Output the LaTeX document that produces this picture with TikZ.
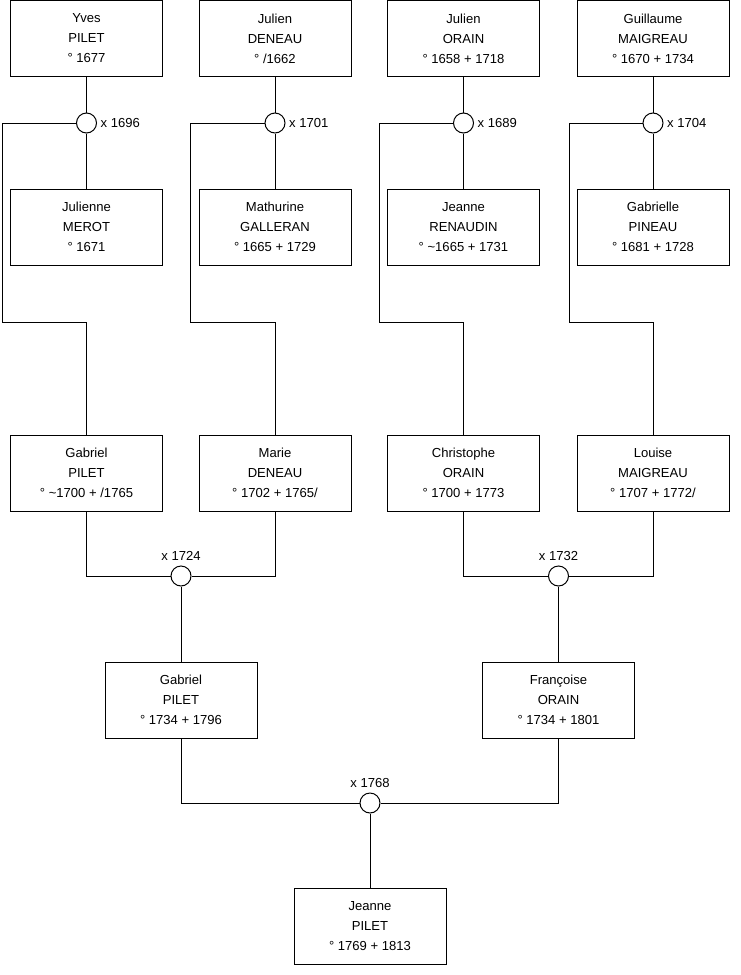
\documentclass[tikz,border=0pt]{standalone}
\usepackage{fontspec}
\setmainfont{Liberation Sans}
\usepackage{tikz}
\usetikzlibrary{positioning}

\begin{document}
\begin{tikzpicture}[
        x=0.75pt, y=-0.75pt,
        person/.style={rectangle, draw, line width=0.75pt, fill=white, minimum width=114pt, minimum height=57pt, align=center, font=\fontsize{9.8}{15}\selectfont},
        union/.style={circle, draw, line width=0.75pt, fill=white, minimum size=15pt, inner sep=0pt},
        ulabel/.style={inner sep=0pt, font=\fontsize{9.8}{12}\selectfont},
        link/.style={line width=0.75pt}
    ]
        \useasboundingbox (0,0) rectangle (740,975);

        % Grandparents, paternal couples
        \node[person] (ypilet) at (86.5,38.5) {Yves\\PILET\\° 1677};
        \node[person] (jdeneau) at (275,38.5) {Julien\\DENEAU\\° /1662};
        \node[person] (jorain) at (463.5,38.5) {Julien\\ORAIN\\° 1658 + 1718};
        \node[person] (gmaigreau) at (653,38.5) {Guillaume\\MAIGREAU\\° 1670 + 1734};

        % Grandparents, maternal side
        \node[person] (jmerot) at (86.5,227) {Julienne\\MEROT\\° 1671};
        \node[person] (mgalleran) at (275,227) {Mathurine\\GALLERAN\\° 1665 + 1729};
        \node[person] (jrenaudin) at (463.5,227) {Jeanne\\RENAUDIN\\° \textasciitilde 1665 + 1731};
        \node[person] (gpineau) at (653,227) {Gabrielle\\PINEAU\\° 1681 + 1728};

        % Parents
        \node[person] (gapilet) at (86.5,473) {Gabriel\\PILET\\° \textasciitilde 1700 + /1765};
        \node[person] (mdeneau) at (275,473) {Marie\\DENEAU\\° 1702 + 1765/};
        \node[person] (corain) at (463.5,473) {Christophe\\ORAIN\\° 1700 + 1773};
        \node[person] (lmaigreau) at (653,473) {Louise\\MAIGREAU\\° 1707 + 1772/};

        \node[person] (gpilet) at (181,700) {Gabriel\\PILET\\° 1734 + 1796};
        \node[person] (forain) at (558.5,700) {Françoise\\ORAIN\\° 1734 + 1801};

        \node[person] (jpilet) at (370,926) {Jeanne\\PILET\\° 1769 + 1813};

        % Marriages
        \node[union] (m1696) at (86.5,123) {};
        \node[union] (m1701) at (275,123) {};
        \node[union] (m1689) at (463.5,123) {};
        \node[union] (m1704) at (653,123) {};
        \node[union] (m1724) at (181,576) {};
        \node[union] (m1732) at (558.5,576) {};
        \node[union] (m1768) at (370,803) {};

        \node[ulabel, right=2.5pt of m1696] {x 1696};
        \node[ulabel, right=2.5pt of m1701] {x 1701};
        \node[ulabel, right=2.5pt of m1689] {x 1689};
        \node[ulabel, right=2.5pt of m1704] {x 1704};
        \node[ulabel, above=3.5pt of m1724] {x 1724};
        \node[ulabel, above=3.5pt of m1732] {x 1732};
        \node[ulabel, above=3.5pt of m1768] {x 1768};

        % Bends of the long links
        \coordinate (bend1) at (2,322);
        \coordinate (bend2) at (190,322);
        \coordinate (bend3) at (379,322);
        \coordinate (bend4) at (569,322);

        % Couples to marriage
        \draw[link] (ypilet) -- (m1696);
        \draw[link] (m1696) -- (jmerot);
        \draw[link] (jdeneau) -- (m1701);
        \draw[link] (m1701) -- (mgalleran);
        \draw[link] (jorain) -- (m1689);
        \draw[link] (m1689) -- (jrenaudin);
        \draw[link] (gmaigreau) -- (m1704);
        \draw[link] (m1704) -- (gpineau);

        % Marriage to child
        \draw[link] (m1696.west) -| (bend1) -| (gapilet.north);
        \draw[link] (m1701.west) -| (bend2) -| (mdeneau.north);
        \draw[link] (m1689.west) -| (bend3) -| (corain.north);
        \draw[link] (m1704.west) -| (bend4) -| (lmaigreau.north);

        \draw[link] (gapilet.south) |- (m1724.west);
        \draw[link] (mdeneau.south) |- (m1724.east);
        \draw[link] (corain.south) |- (m1732.west);
        \draw[link] (lmaigreau.south) |- (m1732.east);
        \draw[link] (m1724) -- (gpilet);
        \draw[link] (m1732) -- (forain);

        \draw[link] (gpilet.south) |- (m1768.west);
        \draw[link] (forain.south) |- (m1768.east);
        \draw[link] (m1768) -- (jpilet);
    \end{tikzpicture}
\end{document}
